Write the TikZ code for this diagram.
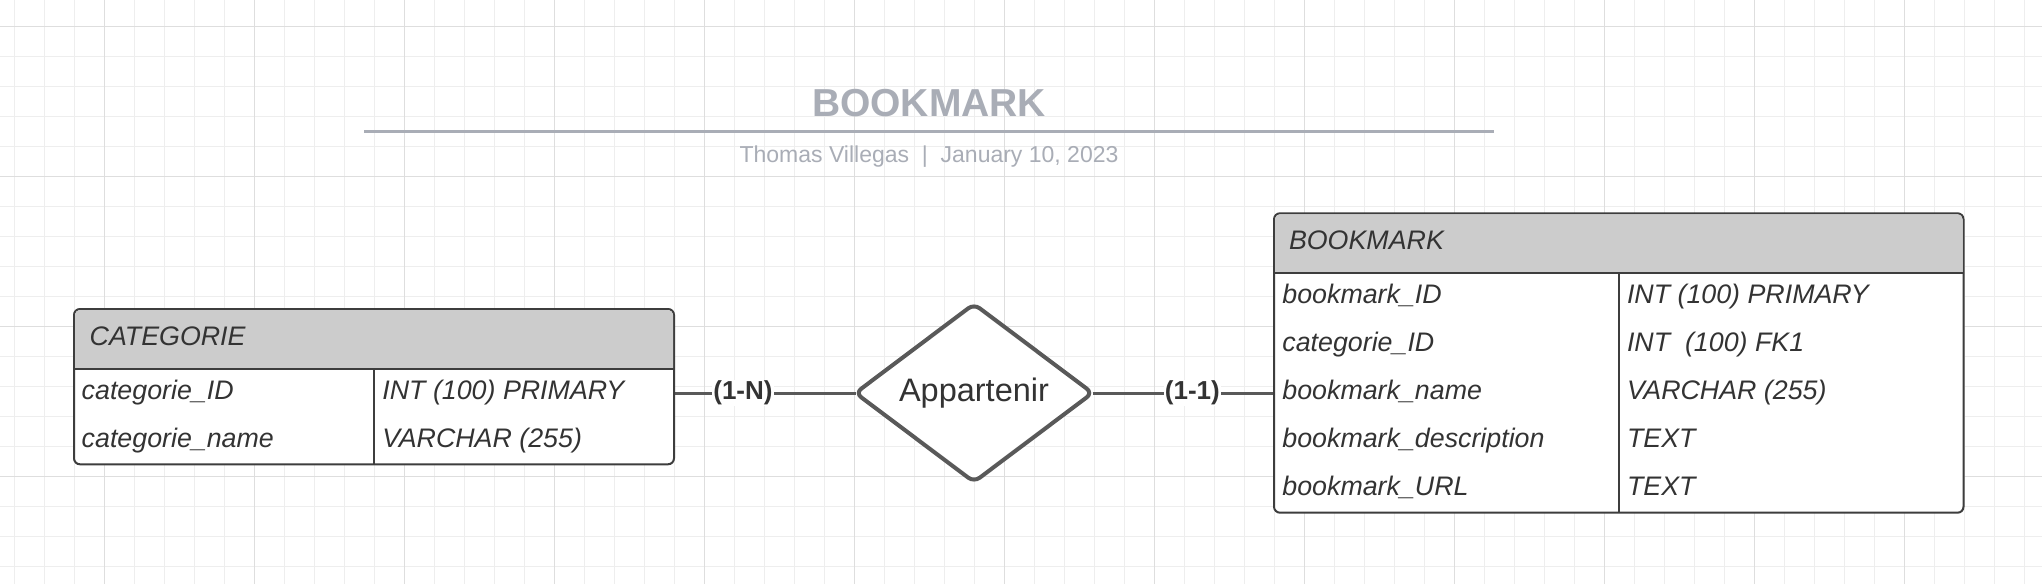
\documentclass[tikz,border=0pt]{standalone}
\usepackage{fontspec}
\setmainfont{Liberation Sans}
\usetikzlibrary{shapes.geometric}
\usetikzlibrary{backgrounds}

\definecolor{titlegray}{RGB}{169,173,182}
\definecolor{gridminor}{RGB}{238,238,238}
\definecolor{gridmajor}{RGB}{222,222,222}
\definecolor{headgray}{RGB}{204,204,204}
\definecolor{inkgray}{RGB}{51,51,51}
\definecolor{bordergray}{RGB}{61,61,61}
\definecolor{linegray}{RGB}{89,89,89}

\tikzset{
    tablebox/.style={draw=bordergray, line width=2pt, fill=white, rounded corners=6pt,
        inner sep=0pt, outer sep=0pt, anchor=north west},
    fieldtext/.style={font=\fontsize{26.8}{30}\selectfont\itshape, text=inkgray,
        anchor=base west, inner sep=0pt},
    relation/.style={diamond, aspect=1.33, draw=linegray, line width=4pt, fill=white,
        rounded corners=7pt, inner sep=0pt, outer sep=0pt, minimum width=237pt,
        minimum height=178pt, font=\fontsize{32.5}{36}\selectfont, text=inkgray},
    link/.style={draw=linegray, line width=3pt},
    card/.style={fill=white, inner sep=1pt, font=\fontsize{26}{30}\selectfont\bfseries,
        text=inkgray},
}

\begin{document}
\begin{tikzpicture}[x=1pt, y=-1pt]
    \useasboundingbox (0, 0) rectangle (2042, 584);
    \begin{scope}[on background layer]
        \fill[white] (0, 0) rectangle (2042, 584);
        \foreach \i in {0, ..., 67} {
            \draw[gridminor, line width=1pt] ({14.3+30*\i}, 0) -- ({14.3+30*\i}, 584);
        }
        \foreach \i in {0, ..., 18} {
            \draw[gridminor, line width=1pt] (0, {26.3+30*\i}) -- (2042, {26.3+30*\i});
        }
        \foreach \i in {0, ..., 12} {
            \draw[gridmajor, line width=1pt] ({104.3+150*\i}, 0) -- ({104.3+150*\i}, 584);
        }
        \foreach \i in {0, ..., 3} {
            \draw[gridmajor, line width=1pt] (0, {26.3+150*\i}) -- (2042, {26.3+150*\i});
        }
    \end{scope}

    \node[font=\fontsize{39}{44}\selectfont\bfseries, text=titlegray, anchor=base] (title) at (929, 116) {BOOKMARK};
    \draw[titlegray, line width=2.7pt] (364, 131.3) -- (1494, 131.3);
    \node[font=\fontsize{23}{26}\selectfont, text=titlegray, anchor=base] (byline) at (929, 162) {Thomas Villegas~~|~~January 10, 2023};

    \node[tablebox, minimum width=600pt, minimum height=155.3pt] (categorie) at (74, 309) {};
    \begin{scope}
        \clip (70, 300) rectangle (680, 368);
        \fill[headgray, rounded corners=5pt] (75, 310) rectangle (673, 380);
    \end{scope}
    \draw[bordergray, line width=2pt] (74, 369) -- (674, 369) (374, 369) -- (374, 464.3);
    \node[fieldtext] (categoriehead) at (89.5, 345) {CATEGORIE};
    \foreach \fname/\ftype [count=\r] in {categorie\_ID/INT (100) PRIMARY, categorie\_name/VARCHAR (255)} {
        \node[fieldtext] (catfield\r) at (81.5, {351+48*\r}) {\fname};
        \node[fieldtext] (cattype\r) at (382.2, {351+48*\r}) {\ftype};
    }

    \node[tablebox, minimum width=689.5pt, minimum height=299.4pt] (bookmark) at (1274, 213.3) {};
    \begin{scope}
        \clip (1270, 200) rectangle (1970, 272.3);
        \fill[headgray, rounded corners=5pt] (1275, 214.3) rectangle (1962.5, 290);
    \end{scope}
    \draw[bordergray, line width=2pt] (1274, 273.3) -- (1963.5, 273.3) (1618.7, 273.3) -- (1618.7, 512.7);
    \node[fieldtext] (bookmarkhead) at (1288.8, 249.3) {BOOKMARK};
    \foreach \fname/\ftype [count=\r] in {bookmark\_ID/INT (100) PRIMARY, categorie\_ID/INT\ \ (100) FK1,
        bookmark\_name/VARCHAR (255), bookmark\_description/TEXT, bookmark\_URL/TEXT} {
        \node[fieldtext] (bmfield\r) at (1282.2, {255.3+48*\r}) {\fname};
        \node[fieldtext] (bmtype\r) at (1626.8, {255.3+48*\r}) {\ftype};
    }

    \node[relation] (appartenir) at (974, 393) {Appartenir};
    \begin{scope}[on background layer]
        \draw[link] (categorie.east |- appartenir) -- node[card, pos=0.38] (cardleft) {(1-N)} (appartenir.west);
        \draw[link] (appartenir.east) -- node[card, pos=0.55] (cardright) {(1-1)} (bookmark.west |- appartenir);
    \end{scope}
\end{tikzpicture}
\end{document}
